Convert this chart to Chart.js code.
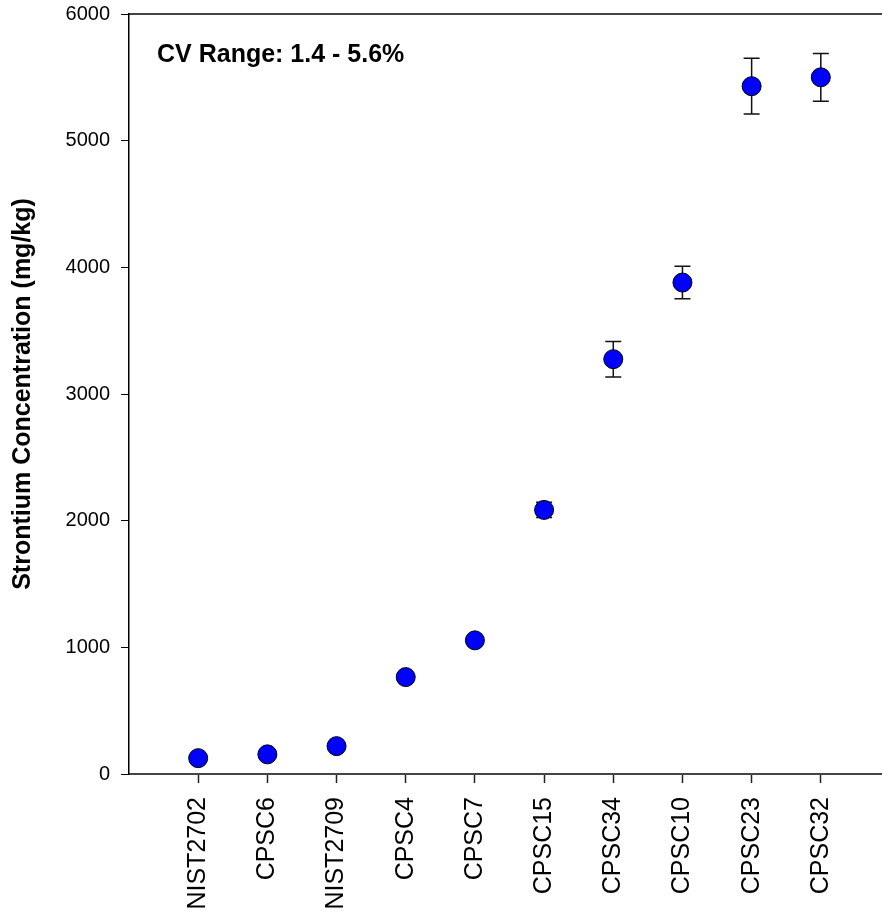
<!DOCTYPE html>
<html>
<head>
<meta charset="utf-8">
<script src="https://cdn.jsdelivr.net/npm/chart.js@4.4.1/dist/chart.umd.min.js"></script>
<style>
  html, body { margin: 0; padding: 0; background: #fff; }
  #wrap { width: 883px; height: 915px; }
</style>
</head>
<body>
<div id="wrap"><canvas id="myChart" width="883" height="915"></canvas></div>
<script>
// sample names, in plotting order
const categories = ['NIST2702', 'CPSC6', 'NIST2709', 'CPSC4', 'CPSC7', 'CPSC15', 'CPSC34', 'CPSC10', 'CPSC23', 'CPSC32'];
// mean strontium concentration (mg/kg)
const means = [125, 155, 220, 765, 1055, 2085, 3275, 3880, 5430, 5500];
// +/- error (mg/kg)
const errors = [5, 6, 9, 25, 35, 60, 140, 128, 220, 188];
const yTicks = [0, 1000, 2000, 3000, 4000, 5000, 6000];

const FONT = '"Liberation Sans", Arial, sans-serif';

// the plot box is fixed, so drop the padding chart.js adds for labels
function noPad(scale) {
    scale.paddingTop = 0;
    scale.paddingBottom = 0;
    scale.paddingLeft = 0;
    scale.paddingRight = 0;
}

// error bars go under the circles
const errorBars = {
    id: 'errorBars',
    beforeDatasetsDraw(chart) {
        const ctx = chart.ctx;
        const x = chart.scales.x, y = chart.scales.y;
        ctx.save();
        ctx.strokeStyle = '#111';
        ctx.lineWidth = 1.5;
        means.forEach(function(m, i) {
            const px = x.getPixelForValue(i + 1);
            const top = y.getPixelForValue(m + errors[i]);
            const bot = y.getPixelForValue(m - errors[i]);
            ctx.beginPath();
            ctx.moveTo(px, top); ctx.lineTo(px, bot);
            ctx.moveTo(px - 8, top); ctx.lineTo(px + 8, top);
            ctx.moveTo(px - 8, bot); ctx.lineTo(px + 8, bot);
            ctx.stroke();
        });
        ctx.restore();
    }
};

// annotation in the top-left corner
const cvNote = {
    id: 'cvNote',
    afterDraw(chart) {
        const ctx = chart.ctx;
        const area = chart.chartArea;
        ctx.save();
        ctx.fillStyle = '#000';
        ctx.font = 'bold 25px ' + FONT;
        ctx.textAlign = 'left';
        ctx.textBaseline = 'alphabetic';
        ctx.fillText('CV Range: 1.4 - 5.6%', area.left + 28, 62);
        ctx.restore();
    }
};

const data = {
    datasets: [{
        label: 'Strontium',
        data: means.map(function(m, i) { return {x: i + 1, y: m}; }),
        backgroundColor: '#0000ff',
        borderColor: '#000',
        borderWidth: 1,
        pointRadius: 9.5,
        pointHoverRadius: 9.5,
        showLine: false
    }]
};

const config = {
    type: 'scatter',
    data,
    options: {
        responsive: false,
        animation: false,
        events: [],
        layout: { autoPadding: false, padding: { top: 14, right: 2, left: 0, bottom: 0 } },
        plugins: {
            legend: { display: false },
            tooltip: { enabled: false }
        },
        scales: {
            x: {
                type: 'linear',
                position: 'bottom',
                min: 0,
                max: 10.87,
                afterBuildTicks: function(scale) {
                    scale.ticks = categories.map(function(c, i) { return {value: i + 1}; });
                },
                afterFit: function(scale) { scale.height = 141; noPad(scale); },
                ticks: {
                    autoSkip: false,
                    maxRotation: 90,
                    minRotation: 90,
                    padding: 14,
                    color: '#000',
                    font: { family: FONT, size: 25 },
                    callback: function(v) { return categories[v - 1]; }
                },
                grid: {
                    drawOnChartArea: false,
                    drawTicks: true,
                    tickLength: 9,
                    tickWidth: 1.5,
                    tickColor: '#222'
                },
                border: { display: true, color: '#444', width: 2 }
            },
            xTop: {
                type: 'linear',
                position: 'top',
                min: 0,
                max: 1,
                afterFit: function(scale) { scale.height = 0; noPad(scale); },
                ticks: { display: false },
                grid: { display: false, drawTicks: false },
                border: { display: true, color: '#444', width: 2 }
            },
            y: {
                min: 0,
                max: 6000,
                afterBuildTicks: function(scale) {
                    scale.ticks = yTicks.map(function(v) { return {value: v}; });
                },
                afterFit: function(scale) { scale.width = 129; noPad(scale); },
                title: {
                    display: true,
                    text: 'Strontium Concentration (mg/kg)',
                    color: '#000',
                    font: { family: FONT, size: 25, weight: 'bold' },
                    padding: { top: 8, bottom: 0 }
                },
                ticks: {
                    padding: 11,
                    color: '#000',
                    font: { family: FONT, size: 20 },
                    callback: function(v) { return String(v); }
                },
                grid: {
                    drawOnChartArea: false,
                    drawTicks: true,
                    tickLength: 8,
                    tickColor: '#000'
                },
                border: { display: true, color: '#000', width: 1.5 }
            }
        }
    },
    plugins: [errorBars, cvNote]
};

const myChart = new Chart(
    document.getElementById('myChart'),
    config
);
</script>
</body>
</html>
